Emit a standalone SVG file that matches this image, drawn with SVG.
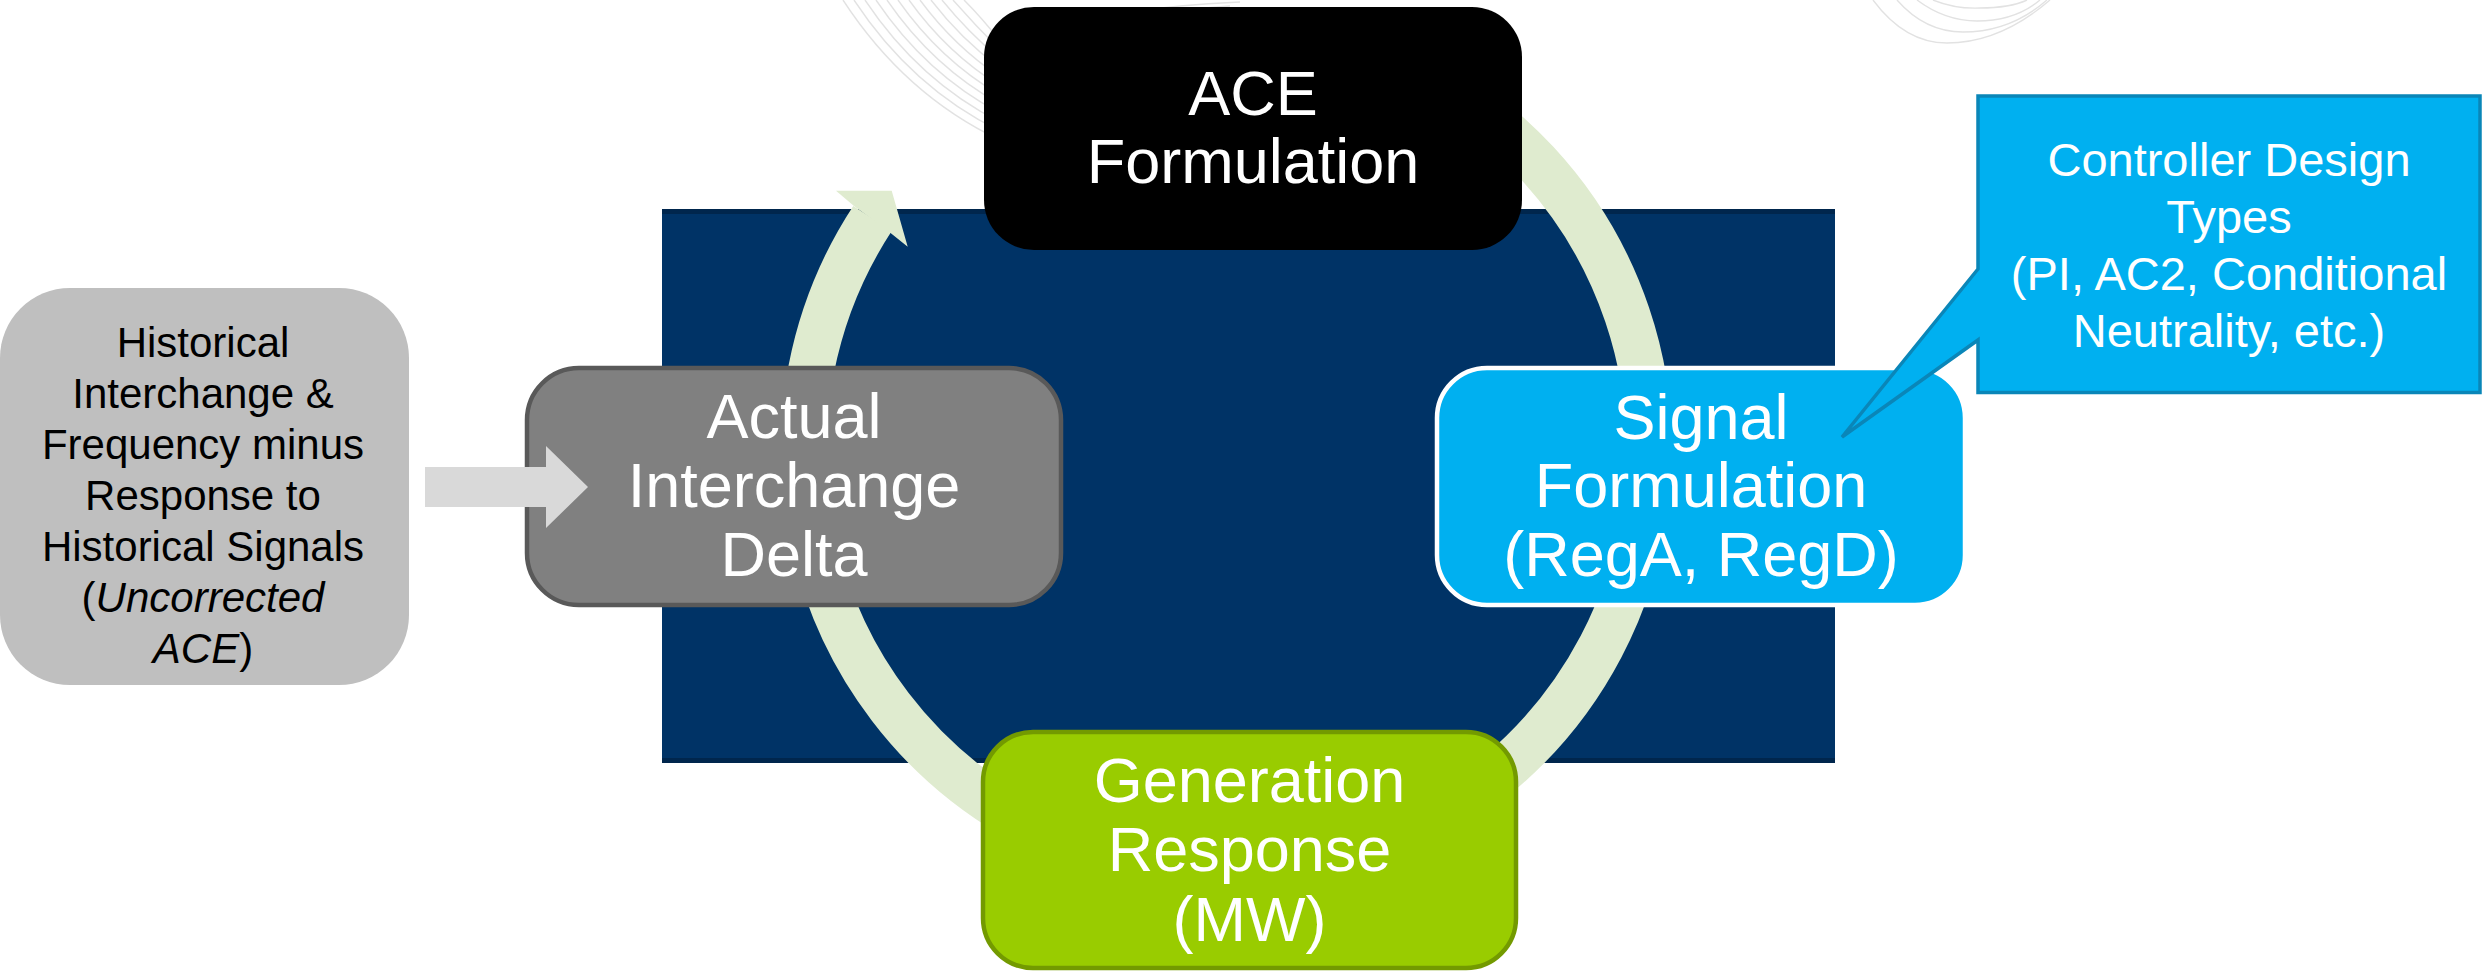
<svg xmlns="http://www.w3.org/2000/svg" width="2484" height="972" viewBox="0 0 2484 972">
<style>
  .t { font-family: "Liberation Sans", Arial, sans-serif; text-anchor: middle; }
  .big { font-size: 63px; fill: #FFFFFF; }
  .mid { font-size: 42px; fill: #000000; }
  .call { font-size: 47px; fill: #FFFFFF; }
  .deco { fill: none; stroke: #E2E2E2; stroke-width: 1.4; }
  .ring { fill: none; stroke: #DFEBCF; stroke-width: 46; }
</style>
<rect x="0" y="0" width="2484" height="972" fill="#FFFFFF"/>

<!-- faint decorative background lines -->
<g id="background">
  <path class="deco" d="M843 0 Q905 95 1000 140"/>
  <path class="deco" d="M854 0 Q912 88 1000 131"/>
  <path class="deco" d="M865 0 Q919 81 1000 122"/>
  <path class="deco" d="M876 0 Q926 74 1000 113"/>
  <path class="deco" d="M887 0 Q933 67 1000 104"/>
  <path class="deco" d="M898 0 Q940 60 1000 95"/>
  <path class="deco" d="M909 0 Q947 53 1000 86"/>
  <path class="deco" d="M920 0 Q954 46 1000 77"/>
  <path class="deco" d="M931 0 Q961 39 1000 68"/>
  <path class="deco" d="M942 0 Q968 32 1000 59"/>
  <path class="deco" d="M953 0 Q975 25 1000 50"/>
  <path class="deco" d="M964 0 Q982 18 1000 41"/>
  <path class="deco" d="M1000 41 Q1100 8 1240 2"/>
  <path class="deco" d="M1000 59 Q1100 14 1230 6"/>
  <path class="deco" d="M1873 0 Q1905 43 1947 43 Q2000 43 2050 0"/>
  <path class="deco" d="M1897 0 Q1925 32 1963 32 Q2010 32 2047 0"/>
  <path class="deco" d="M1917 0 Q1945 21 1977 21 Q2015 21 2040 0"/>
  <path class="deco" d="M1933 0 Q1955 9 1980 8 Q2010 8 2027 0"/>
</g>

<!-- central navy panel -->
<g id="panel">
  <rect x="662" y="209" width="1173" height="554" fill="#003366"/>
  <rect x="662" y="209" width="1173" height="5" fill="#00264D"/>
  <rect x="662" y="758" width="1173" height="5" fill="#00264D"/>
</g>

<!-- circular cycle arrow -->
<g id="connectors">
  <path class="ring" d="M1404.8 66.6 A423 423 0 1 1 872.5 218.5"/>
  <polygon fill="#DFEBCF" points="854,206 836,190.7 891.7,190.7 907.7,246.7 889,231.7"/>
</g>

<g id="node-history">
  <rect x="0" y="288" width="409" height="397" rx="70" ry="70" fill="#BFBFBF"/>
  <text class="t mid" x="203" y="357">Historical</text>
  <text class="t mid" x="203" y="408">Interchange &amp;</text>
  <text class="t mid" x="203" y="459">Frequency minus</text>
  <text class="t mid" x="203" y="510">Response to</text>
  <text class="t mid" x="203" y="561">Historical Signals</text>
  <text class="t mid" x="203" y="612">(<tspan font-style="italic">Uncorrected</tspan></text>
  <text class="t mid" x="203" y="663"><tspan font-style="italic">ACE</tspan>)</text>
</g>

<g id="node-actual">
  <rect x="527" y="368" width="534" height="237" rx="52" ry="52" fill="#808080" stroke="#595959" stroke-width="4.5"/>
  <text class="t big" x="794" y="438">Actual</text>
  <text class="t big" x="794" y="507">Interchange</text>
  <text class="t big" x="794" y="576">Delta</text>
</g>

<g id="node-ace">
  <rect x="984" y="7" width="538" height="243" rx="50" ry="50" fill="#000000"/>
  <text class="t big" x="1253" y="115">ACE</text>
  <text class="t big" x="1253" y="183">Formulation</text>
</g>

<g id="node-signal">
  <rect x="1437" y="368" width="528" height="237" rx="50" ry="50" fill="#00B0F0" stroke="#FFFFFF" stroke-width="4.5"/>
  <text class="t big" x="1701" y="439">Signal</text>
  <text class="t big" x="1701" y="507">Formulation</text>
  <text class="t big" x="1701" y="576">(RegA, RegD)</text>
</g>

<g id="node-generation">
  <rect x="983" y="732" width="533" height="236" rx="50" ry="50" fill="#99CC00" stroke="#739A00" stroke-width="4.5"/>
  <text class="t big" x="1249.5" y="802">Generation</text>
  <text class="t big" x="1249.5" y="871">Response</text>
  <text class="t big" x="1249.5" y="941">(MW)</text>
</g>

<g id="node-controller">
  <path d="M1978 96 H2480 V392.5 H1978 V340 L1842 437 L1978 269 Z" fill="#00B0F0" stroke="#0A86B8" stroke-width="3.5" stroke-linejoin="miter"/>
  <text class="t call" x="2229" y="176">Controller Design</text>
  <text class="t call" x="2229" y="233">Types</text>
  <text class="t call" x="2229" y="290">(PI, AC2, Conditional</text>
  <text class="t call" x="2229" y="347">Neutrality, etc.)</text>
</g>

<g id="connector-input">
  <polygon fill="#D9D9D9" points="425,467 546,467 546,446 588,487 546,528 546,507 425,507"/>
</g>
</svg>
